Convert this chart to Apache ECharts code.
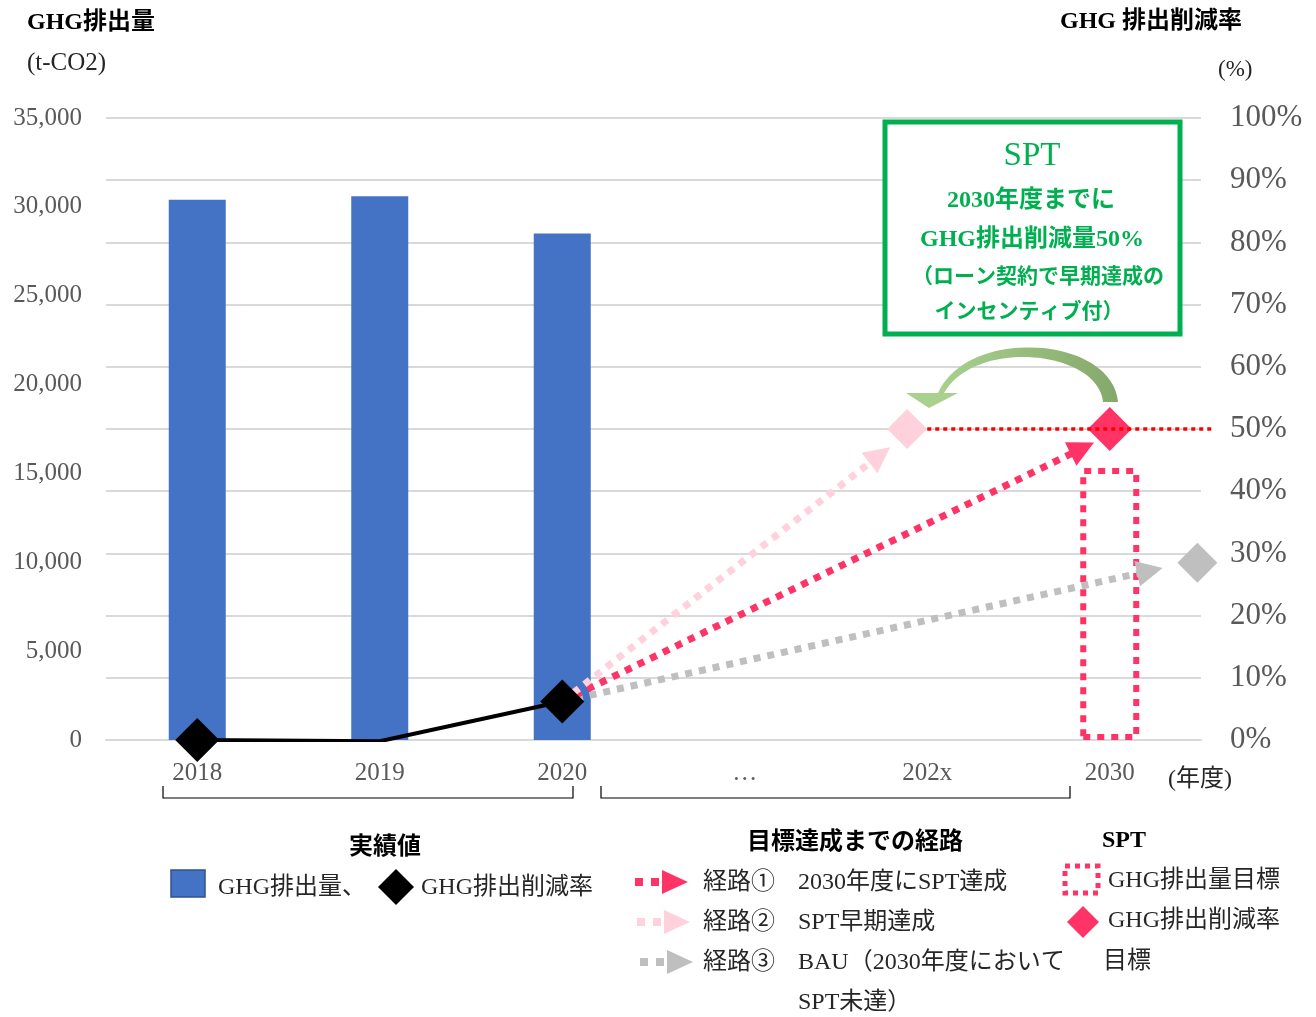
<!DOCTYPE html>
<html><head><meta charset="utf-8">
<script src="https://cdn.jsdelivr.net/npm/echarts@6/dist/echarts.min.js"></script>
<style>html,body{margin:0;padding:0;background:#fff}#c{width:1316px;height:1017px}</style>
</head><body><div id="c"></div>
<script>
// ---- data ----
const categories = ['2018', '2019', '2020', '…', '202x', '2030'];
const emissions = [30400, 30600, 28500, null, null, null];          // t-CO2
const reductionRate = [0, -0.2, 6.2, null, null, null];             // %
const targetEmission = [null, null, null, null, null, 15300];       // 2030 target t-CO2
const leftTicks = [0, 35000, 5000];
const rightTicks = [0, 100, 10];
// pathway points on a value x scale where category i sits at i
const pathStart = [2, 6.2];
const path1End = [4.85, 46.9];   // 経路① 2030年度にSPT達成
const path2End = [3.74, 45.8];   // 経路② SPT早期達成
const path3End = [5.22, 27.2];   // 経路③ BAU
const earlyPoint = [3.89, 50];
const sptPoint = [5, 50];
const bauPoint = [5.48, 28.5];
const targetLine = [[4.0, 50], [5.56, 50]];

const SERIF = "'Liberation Serif', 'Noto Sans CJK JP', serif";
const RED = '#ff3366', PINK = '#ffd1dc', GRAY = '#bfbfbf', GREEN = '#00b050';

function txt(x, y, s, o) {
  o = o || {};
  return { type: 'text', x: x, y: y, silent: true, z: 100,
    style: { text: s, fill: o.color || '#262626', textAlign: o.align || 'left', textVerticalAlign: 'middle',
      font: (o.bold ? 'bold ' : '') + (o.size || 24) + 'px ' + SERIF } };
}
function tri(x, y, color) {
  return { type: 'polygon', z: 100, shape: { points: [[x, y - 12], [x + 26, y], [x, y + 12]] }, style: { fill: color } };
}
function dots(x1, x2, y, color) {
  return { type: 'line', z: 100, shape: { x1: x1, y1: y, x2: x2, y2: y }, style: { stroke: color, lineWidth: 8, lineDash: [8, 8] } };
}
function bez(p0, p1, p2, p3, n) {
  const out = [];
  for (let i = 0; i <= n; i++) {
    const t = i / n, u = 1 - t;
    out.push([u*u*u*p0[0] + 3*u*u*t*p1[0] + 3*u*t*t*p2[0] + t*t*t*p3[0],
              u*u*u*p0[1] + 3*u*u*t*p1[1] + 3*u*t*t*p2[1] + t*t*t*p3[1]]);
  }
  return out;
}
const arcOuter = bez([1118, 402], [1112, 336], [968, 326], [938, 393], 40);
const arcInner = bez([944, 393], [975, 338], [1098, 350], [1103, 402], 40);

const chart = echarts.init(document.getElementById('c'));
const graphics = [
  txt(27, 23, 'GHG排出量', { bold: true, size: 24, color: '#000' }),
  txt(27, 63, '(t-CO2)', { size: 25, color: '#262626' }),
  txt(1060, 22, 'GHG 排出削減率', { bold: true, size: 24, color: '#000' }),
  txt(1218, 70, '(%)', { size: 23, color: '#262626' }),
  txt(1168, 780, '(年度)', { size: 24, color: '#262626' }),
  // braces
  { type: 'polyline', z: 100, shape: { points: [[163, 786], [163, 798], [573, 798], [573, 786]] }, style: { stroke: '#000', lineWidth: 1.2, fill: null } },
  { type: 'polyline', z: 100, shape: { points: [[601, 786], [601, 798], [1070, 798], [1070, 786]] }, style: { stroke: '#000', lineWidth: 1.2, fill: null } },
  // SPT box
  { type: 'rect', z: 90, shape: { x: 885, y: 122, width: 295, height: 212 }, style: { fill: '#fff', stroke: GREEN, lineWidth: 5 } },
  txt(1032, 156, 'SPT', { size: 33, color: GREEN, align: 'center' }),
  txt(1031, 201, '2030年度までに', { size: 24, bold: true, color: GREEN, align: 'center' }),
  txt(1032, 240, 'GHG排出削減量50%', { size: 24, bold: true, color: GREEN, align: 'center' }),
  txt(1038, 278, '（ローン契約で早期達成の', { size: 21, bold: true, color: GREEN, align: 'center' }),
  txt(1029, 313, 'インセンティブ付）', { size: 21, bold: true, color: GREEN, align: 'center' }),
  // curved green arrow
  { type: 'polygon', z: 95, shape: { points: arcOuter.concat(arcInner) },
    style: { fill: new echarts.graphic.LinearGradient(0, 0, 1, 0, [{ offset: 0, color: '#a9d18e' }, { offset: 1, color: '#84a86a' }]) } },
  { type: 'polygon', z: 95, shape: { points: [[906, 393], [958, 393], [929, 408]] }, style: { fill: '#a9d18e' } },
  // legend: 実績値
  txt(385, 848, '実績値', { bold: true, size: 24, color: '#000', align: 'center' }),
  { type: 'rect', z: 100, shape: { x: 171, y: 870, width: 34, height: 27 }, style: { fill: '#4472c4', stroke: '#2f528f', lineWidth: 1.5 } },
  txt(218, 888, 'GHG排出量、', {}),
  { type: 'polygon', z: 100, shape: { points: [[396, 869], [414, 887], [396, 905], [378, 887]] }, style: { fill: '#000' } },
  txt(421, 888, 'GHG排出削減率', {}),
  // legend: 経路
  txt(855, 843, '目標達成までの経路', { bold: true, size: 24, color: '#000', align: 'center' }),
  dots(635, 662, 882, RED), tri(662, 882, RED),
  txt(703, 883, '経路①', {}), txt(798, 883, '2030年度にSPT達成', {}),
  dots(637, 664, 922, PINK), tri(664, 922, PINK),
  txt(703, 923, '経路②', {}), txt(798, 923, 'SPT早期達成', {}),
  dots(640, 667, 962, GRAY), tri(667, 962, GRAY),
  txt(703, 963, '経路③', {}), txt(798, 963, 'BAU（2030年度において', {}),
  txt(798, 1003, 'SPT未達）', {}),
  // legend: SPT
  txt(1124, 841, 'SPT', { bold: true, size: 24, color: '#000', align: 'center' }),
  { type: 'rect', z: 100, shape: { x: 1065, y: 866, width: 33, height: 27 }, style: { fill: null, stroke: RED, lineWidth: 5, lineDash: [5, 5] } },
  txt(1108, 881, 'GHG排出量目標', {}),
  { type: 'polygon', z: 100, shape: { points: [[1083, 906], [1099, 922], [1083, 938], [1067, 922]] }, style: { fill: RED } },
  txt(1108, 921, 'GHG排出削減率', {}),
  txt(1103, 962, '目標', {})
];

function pathSeries(end, color) {
  return { type: 'lines', coordinateSystem: 'cartesian2d', xAxisIndex: 1, yAxisIndex: 1, z: 3,
    symbol: ['none', 'triangle'], symbolSize: [24, 26], clip: false, silent: true,
    lineStyle: { color: color, width: 7, type: [7, 7], opacity: 1 },
    data: [{ coords: [pathStart, end] }] };
}

chart.setOption({
  animation: false,
  textStyle: { fontFamily: SERIF },
  grid: { left: 106, right: 115, top: 118, bottom: 277, containLabel: false },
  xAxis: [
    { type: 'category', data: categories, axisTick: { show: false },
      axisLine: { lineStyle: { color: '#d9d9d9', width: 2 } },
      axisLabel: { color: '#595959', fontSize: 25, margin: 21, fontFamily: SERIF } },
    { type: 'value', min: -0.5, max: 5.5, show: false },
    { type: 'category', data: categories, show: false }
  ],
  yAxis: [
    { type: 'value', min: leftTicks[0], max: leftTicks[1], interval: leftTicks[2], splitLine: { show: false },
      axisLine: { show: false }, axisTick: { show: false },
      axisLabel: { color: '#595959', fontSize: 25, margin: 24, fontFamily: SERIF,
        formatter: v => v.toLocaleString('en-US') } },
    { type: 'value', min: rightTicks[0], max: rightTicks[1], interval: rightTicks[2],
      splitLine: { lineStyle: { color: '#d9d9d9', width: 2 } },
      axisLine: { show: false }, axisTick: { show: false },
      axisLabel: { color: '#595959', fontSize: 31, margin: 29, fontFamily: SERIF, formatter: '{value}%' } }
  ],
  graphic: graphics,
  series: [
    { type: 'bar', name: 'GHG排出量', data: emissions, barWidth: 57, itemStyle: { color: '#4472c4' }, z: 2 },
    { type: 'bar', name: 'GHG排出量目標', xAxisIndex: 2, data: targetEmission, barWidth: 59, z: 2,
      itemStyle: { color: 'rgba(0,0,0,0)', borderColor: RED, borderWidth: 6, borderType: [7, 7] } },
    pathSeries(path3End, GRAY),
    pathSeries(path1End, RED),
    pathSeries(path2End, PINK),
    { type: 'scatter', xAxisIndex: 1, yAxisIndex: 1, z: 4, clip: false, symbol: 'diamond', symbolSize: 40,
      data: [
        { value: earlyPoint, itemStyle: { color: PINK, opacity: 1 } },
        { value: sptPoint, symbolSize: 44, itemStyle: { color: RED, opacity: 1 } },
        { value: bauPoint, itemStyle: { color: GRAY, opacity: 1 } }
      ] },
    { type: 'lines', coordinateSystem: 'cartesian2d', xAxisIndex: 1, yAxisIndex: 1, z: 5, clip: false, silent: true,
      lineStyle: { color: '#ff0000', width: 3.5, type: [4, 4], opacity: 1 }, data: [{ coords: targetLine }] },
    { type: 'line', name: 'GHG排出削減率', yAxisIndex: 1, z: 6, data: reductionRate.map((v, i) => i === 1 ? { value: v, symbol: 'none' } : v),
      symbol: 'diamond', symbolSize: 44, showSymbol: true, lineStyle: { color: '#000', width: 4 }, itemStyle: { color: '#000' } }
  ]
});
</script></body></html>
